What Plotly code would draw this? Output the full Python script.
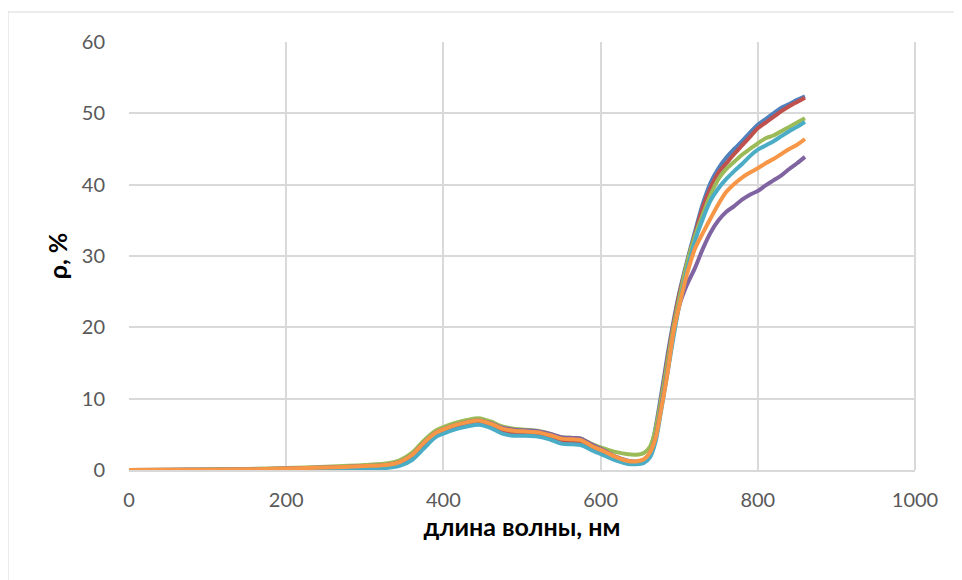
import plotly.graph_objects as go

wavelength = [0, 50, 100, 150, 200, 250, 300, 330, 345, 360, 375, 390, 400, 415, 430, 445, 460, 475, 490,
              505, 520, 535, 550, 565, 575, 590, 605, 620, 635, 645, 655, 663, 670, 677, 685, 693, 700,
              710, 720, 730, 740, 750, 760, 770, 780, 790, 800, 810, 820, 830, 840, 850, 860]

series_blue = [0, 0.01, 0.03, 0.07, 0.12, 0.25, 0.4, 0.55, 0.9, 1.8, 3.5, 4.9, 5.4, 6.0, 6.4, 6.65, 6.2, 5.5, 5.2,
               5.1, 5.0, 4.6, 4.1, 4.0, 3.9, 3.0, 2.3, 1.5, 1.0, 0.95, 1.2, 2.4, 6.0, 10.5, 16.0, 21.0, 24.8,
               29.3, 33.4, 37.3, 40.3, 42.3, 43.8, 45.0, 46.1, 47.3, 48.4, 49.2, 50.0, 50.8, 51.3, 51.9, 52.4]
series_red = [0, 0.01, 0.03, 0.07, 0.13, 0.27, 0.42, 0.6, 0.95, 1.85, 3.55, 4.95, 5.45, 6.05, 6.45, 6.7, 6.25, 5.55, 5.25,
              5.15, 5.05, 4.65, 4.15, 4.05, 3.95, 3.05, 2.35, 1.55, 1.05, 1.0, 1.25, 2.4, 5.6, 10.0, 15.5, 20.6, 24.5,
              29.0, 33.0, 36.8, 39.6, 41.7, 43.0, 44.3, 45.5, 46.7, 47.9, 48.7, 49.5, 50.3, 51.0, 51.6, 52.2]
series_green = [0, 0.03, 0.07, 0.15, 0.28, 0.45, 0.7, 0.95, 1.4, 2.4, 4.1, 5.5, 6.0, 6.6, 7.0, 7.25, 6.8, 6.1, 5.8,
                5.65, 5.5, 5.1, 4.6, 4.5, 4.4, 3.6, 3.0, 2.5, 2.2, 2.15, 2.4, 3.3, 5.8, 9.8, 15.0, 20.2, 24.0,
                29.0, 32.8, 35.8, 38.6, 40.8, 42.2, 43.2, 44.2, 45.0, 45.8, 46.5, 46.9, 47.5, 48.1, 48.7, 49.3]
series_purple = [0, 0.02, 0.05, 0.1, 0.2, 0.35, 0.55, 0.75, 1.15, 2.1, 3.8, 5.2, 5.7, 6.3, 6.7, 6.95, 6.55, 5.95, 5.65,
                 5.55, 5.45, 5.1, 4.6, 4.5, 4.4, 3.5, 2.7, 1.85, 1.3, 1.2, 1.45, 2.4, 4.6, 8.8, 13.8, 19.3, 23.0,
                 26.0, 28.3, 31.0, 33.3, 35.0, 36.2, 37.0, 37.9, 38.6, 39.1, 39.9, 40.6, 41.3, 42.2, 43.0, 43.9]
series_cyan = [0, 0.0, 0.01, 0.03, 0.05, 0.12, 0.2, 0.3, 0.6, 1.4, 3.0, 4.6, 5.1, 5.7, 6.1, 6.35, 5.9, 5.1, 4.8,
               4.8, 4.7, 4.3, 3.7, 3.6, 3.5, 2.7, 2.0, 1.3, 0.85, 0.8, 1.0, 1.8, 4.0, 8.3, 13.5, 18.8, 23.0,
               28.0, 32.1, 35.2, 37.8, 39.5, 40.8, 41.9, 42.9, 44.0, 44.9, 45.5, 46.1, 46.8, 47.5, 48.1, 48.8]
series_orange = [0, 0.02, 0.05, 0.1, 0.2, 0.35, 0.55, 0.75, 1.15, 2.1, 3.8, 5.2, 5.7, 6.3, 6.7, 6.95, 6.5, 5.8, 5.5,
                 5.4, 5.3, 4.9, 4.4, 4.3, 4.2, 3.3, 2.6, 1.8, 1.25, 1.2, 1.5, 2.5, 4.5, 8.5, 13.5, 19.5, 23.0,
                 27.5, 31.0, 33.2, 35.3, 37.3, 39.0, 40.1, 41.0, 41.7, 42.3, 43.0, 43.6, 44.3, 45.0, 45.6, 46.4]

series = [
    ("1", series_blue, "#4F81BD"),
    ("2", series_red, "#C0504D"),
    ("3", series_green, "#9BBB59"),
    ("4", series_purple, "#8064A2"),
    ("5", series_cyan, "#4BACC6"),
    ("6", series_orange, "#F79646"),
]

x_ticks = [0, 200, 400, 600, 800, 1000]
y_ticks = [0, 10, 20, 30, 40, 50, 60]

fig = go.Figure()
for name, vals, color in series:
    fig.add_trace(go.Scatter(x=wavelength, y=vals, mode="lines", name=name,
                             line=dict(color=color, width=4, shape="spline", smoothing=0.8)))

grid = "#D9D9D9"
L, T, PW, PH = 121, 34, 786, 428
fig.update_layout(
    width=962, height=580,
    margin=dict(l=L, r=962 - L - PW, t=T, b=580 - T - PH),
    paper_bgcolor="white", plot_bgcolor="white",
    showlegend=False,
    font=dict(family="Lato, Carlito, sans-serif", size=20, color="#595959"),
    xaxis=dict(range=[0, 1000], tickvals=x_ticks, showgrid=True, gridcolor=grid, gridwidth=2,
               zeroline=False, showline=True, linecolor=grid, linewidth=2, ticks="",
               ticklabelstandoff=11,
               title=dict(text="<b>длина волны, нм</b>", font=dict(size=25, color="#000000"), standoff=6)),
    yaxis=dict(range=[0, 60], tickvals=y_ticks, showgrid=True, gridcolor=grid, gridwidth=2,
               zeroline=False, showline=False, ticks="", ticklabelstandoff=23,
               title=dict(text="<b>ρ, %</b>", font=dict(size=25, color="#000000"), standoff=7)),
    shapes=[
        dict(type="line", xref="paper", yref="paper", x0=-L / PW, x1=1.2,
             y0=(T + PH - 4) / PH, y1=(T + PH - 4) / PH, line=dict(color=grid, width=1)),
        dict(type="line", xref="paper", yref="paper", x0=-L / PW, x1=-L / PW,
             y0=(T + PH - 4) / PH, y1=-0.4, line=dict(color=grid, width=1)),
        dict(type="line", xref="paper", yref="paper", x0=1, x1=1, y0=0, y1=1,
             line=dict(color=grid, width=2)),
    ],
)

fig.write_html("out.html")
